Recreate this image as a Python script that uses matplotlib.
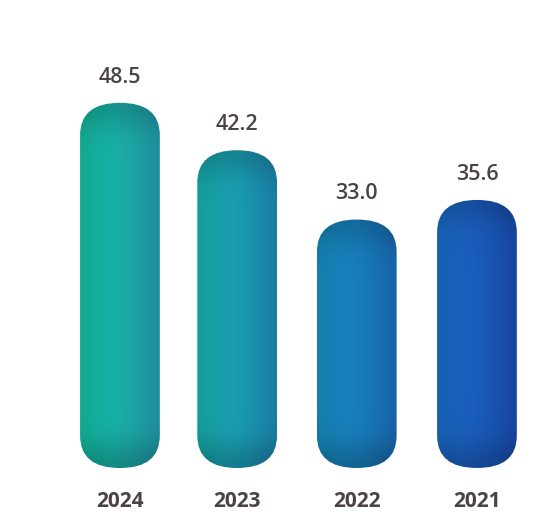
import matplotlib
matplotlib.use("Agg")
import matplotlib.pyplot as plt
from matplotlib.patches import FancyBboxPatch
from matplotlib.colors import to_rgb
import numpy as np

years = ["2024", "2023", "2022", "2021"]
values = [48.5, 42.2, 33.0, 35.6]
left_colors = ["#12b89c", "#16a9a8", "#1689bb", "#1a68c2"]
right_colors = ["#22a3b2", "#1e90bb", "#1a72bd", "#1a50b6"]

W, H = 548, 518
fig = plt.figure(figsize=(W / 100, H / 100), dpi=100)
ax = fig.add_axes([0, 50 / H, 1, 1 - 50 / H])
ax.set_xlim(-1.008, 3.597)
ax.set_ylim(0, 468 / 7.53)
ax.axis("off")

x = np.array([0, 0.985, 1.99, 3.0])
bw = 0.67
bars = ax.bar(x, values, width=bw, color="none")

rx = bw / 2
ry = 4.3
for i, b in enumerate(bars):
    x0, w, h = b.get_x(), b.get_width(), b.get_height()
    clip = FancyBboxPatch((x0, 0), w, h,
                          boxstyle=f"round,pad=0,rounding_size={rx}",
                          mutation_aspect=ry / rx,
                          fc="none", ec="none")
    ax.add_patch(clip)

    ncol, nrow = 120, 300
    t = np.linspace(0, 1, ncol)
    c0 = np.array(to_rgb(left_colors[i]))
    c1 = np.array(to_rgb(right_colors[i]))
    row = c0[None, :] * (1 - t[:, None]) + c1[None, :] * t[:, None]
    # soft highlight down the middle, darker toward the sides
    side = 1 - 0.10 * np.abs(t - 0.42) ** 1.5 * 3
    row = row * side[:, None]
    yy = np.linspace(h, 0, nrow)
    top = np.exp(-((h - yy) / (ry * 0.8)) ** 2)
    bot = np.exp(-(yy / (ry * 0.8)) ** 2)
    shade = 1 - 0.16 * top - 0.20 * bot
    img = row[None, :, :] * shade[:, None, None]
    img = np.clip(img, 0, 1)
    im = ax.imshow(img, extent=[x0, x0 + w, 0, h], aspect="auto",
                   interpolation="bilinear", zorder=2)
    im.set_clip_path(clip)

    ax.text(b.get_x() + w / 2, h + 3.4, f"{values[i]:.1f}",
            ha="center", va="center", fontsize=15.5, color="#4a4248",
            family="Open Sans", fontweight="semibold")
    ax.text(b.get_x() + w / 2, -4.4, years[i], ha="center", va="center",
            fontsize=15, color="#4a4248", family="Open Sans",
            fontweight="bold", clip_on=False)

fig.savefig("out.png", dpi=100)
